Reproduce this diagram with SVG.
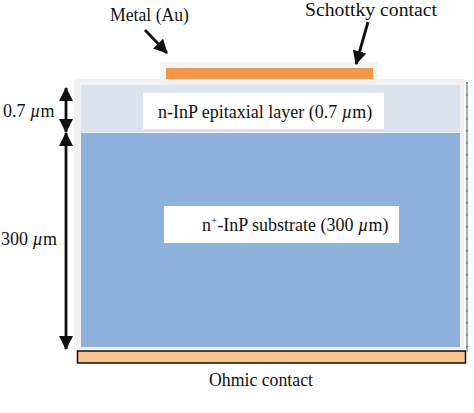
<svg xmlns="http://www.w3.org/2000/svg" width="474" height="413" viewBox="0 0 474 413">
<style>
  .t { font-family: "Liberation Serif", "Times New Roman", serif; font-size: 18px; fill: #111; }
  .mu { font-style: italic; }
  .arr { stroke: #111; stroke-width: 2.8; fill: none; }
  .lbl { fill: #ffffff; }
</style>
<defs>
  <marker id="ah" viewBox="0 0 14 14" refX="13" refY="7" markerWidth="14" markerHeight="14" markerUnits="userSpaceOnUse" orient="auto-start-reverse">
    <path d="M0,0 L14,7 L0,14 z" fill="#111"/>
  </marker>
</defs>
<rect width="474" height="413" fill="#ffffff"/>

<g id="frame">
  <rect x="74" y="79" width="390" height="272" fill="#f1f1f3"/>
</g>

<g id="epitaxial-layer">
  <rect x="81" y="85" width="379" height="47" fill="#dbe3ee"/>
  <rect class="lbl" x="143" y="93" width="241" height="36"/>
  <text class="t" x="158" y="118">n-InP epitaxial layer (0.7 <tspan class="mu">µ</tspan>m)</text>
</g>

<g id="substrate">
  <rect x="81" y="133" width="379" height="214" fill="#8fb2dc"/>
  <rect class="lbl" x="164" y="206" width="235" height="37"/>
  <text class="t" x="202" y="231">n<tspan font-size="11" dy="-7">+</tspan><tspan dy="7">-InP substrate (300 </tspan><tspan class="mu">µ</tspan>m)</text>
</g>

<g id="schottky-metal">
  <rect x="160" y="62" width="218" height="19" fill="#f3f5f8"/>
  <rect x="166" y="68" width="207" height="11" fill="#f4974a"/>
</g>

<g id="ohmic-contact">
  <rect x="77.5" y="351" width="388" height="12" fill="#f8c490" stroke="#111" stroke-width="1.5"/>
  <text class="t" x="261" y="386" text-anchor="middle" textLength="104" lengthAdjust="spacingAndGlyphs">Ohmic contact</text>
</g>

<g id="scale-bar">
  <line x1="467" y1="82" x2="467" y2="352" stroke="#8fa3a3" stroke-width="1.6"/>
  <line x1="467" y1="82" x2="467" y2="352" stroke="#4f6a6a" stroke-width="1.6" stroke-dasharray="1.5 10.5"/>
</g>

<g id="labels">
  <text class="t" x="110" y="21" textLength="79" lengthAdjust="spacingAndGlyphs">Metal (Au)</text>
  <text class="t" x="305" y="16" textLength="132" lengthAdjust="spacingAndGlyphs">Schottky contact</text>
  <text class="t" x="3" y="117">0.7 <tspan class="mu">µ</tspan>m</text>
  <text class="t" x="1" y="245">300 <tspan class="mu">µ</tspan>m</text>
</g>

<g id="connectors">
  <line class="arr" x1="145" y1="30" x2="167" y2="53" marker-end="url(#ah)"/>
  <line class="arr" x1="368" y1="22" x2="356" y2="64" marker-end="url(#ah)"/>
  <line class="arr" x1="66" y1="88" x2="66" y2="132" marker-start="url(#ah)" marker-end="url(#ah)"/>
  <line class="arr" x1="66" y1="133" x2="66" y2="349" marker-start="url(#ah)" marker-end="url(#ah)"/>
</g>
</svg>
